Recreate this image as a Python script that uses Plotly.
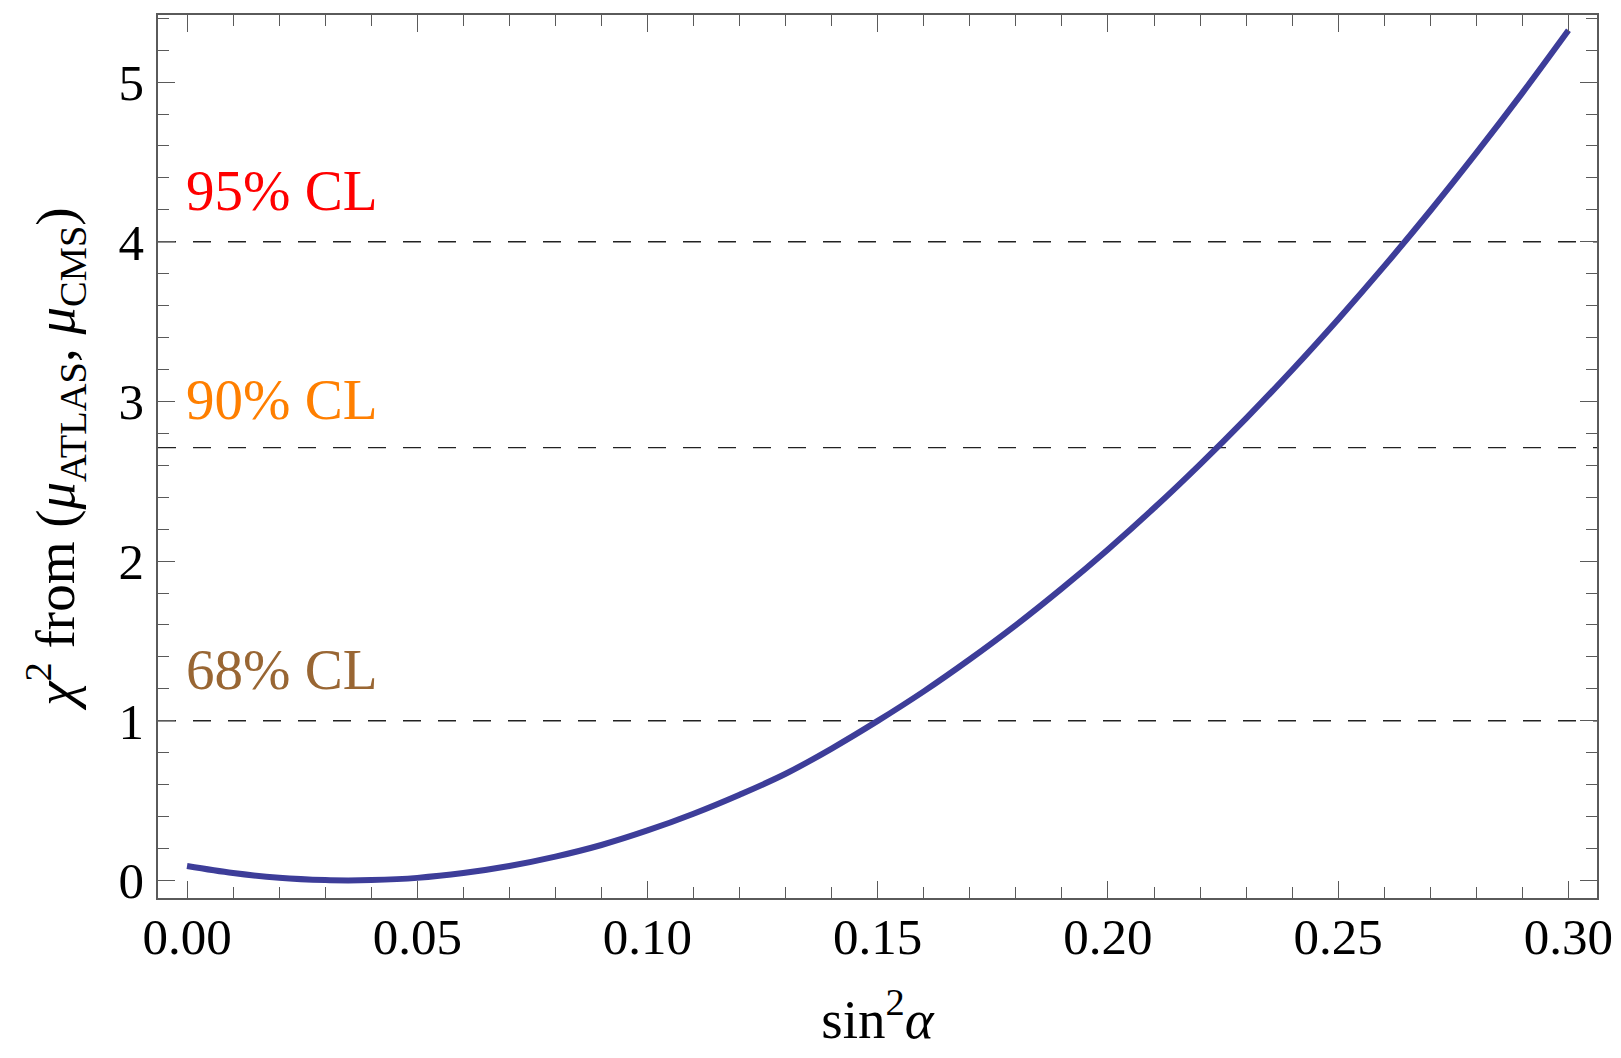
import plotly.graph_objects as go

# sin^2(alpha) values and chi^2 values
sin2a = [0.000, 0.010, 0.020, 0.030, 0.035, 0.040, 0.050, 0.060, 0.070, 0.080,
         0.090, 0.100, 0.110, 0.120, 0.130, 0.140, 0.150, 0.160, 0.170, 0.180,
         0.190, 0.200, 0.210, 0.220, 0.230, 0.240, 0.250, 0.260, 0.270, 0.280,
         0.290, 0.300]
chi2 = [0.090, 0.046, 0.017, 0.002, 0.000, 0.002, 0.016, 0.046, 0.090, 0.149,
        0.222, 0.313, 0.418, 0.537, 0.668, 0.826, 0.999, 1.184, 1.385, 1.599,
        1.829, 2.073, 2.332, 2.606, 2.894, 3.197, 3.515, 3.847, 4.194, 4.556,
        4.932, 5.324]

# confidence-level thresholds
cl_values = [1.0, 2.71, 4.0]
cl_labels = ["68% CL", "90% CL", "95% CL"]
cl_colors = ["#996633", "#ff7f00", "#ff0000"]
cl_label_y = [1.32, 3.01, 4.32]

x_ticks = [0.00, 0.05, 0.10, 0.15, 0.20, 0.25, 0.30]
y_ticks = [0, 1, 2, 3, 4, 5]

FONT = "Liberation Serif"
FRAME = "#5a5a5a"

fig = go.Figure()
fig.add_trace(go.Scatter(
    x=sin2a, y=chi2, mode="lines", line=dict(color="#3d3d99", width=6, shape="spline"),
    showlegend=False, hoverinfo="skip"))

for v in cl_values:
    fig.add_shape(type="line", xref="paper", x0=0, x1=1, yref="y", y0=v, y1=v,
                  line=dict(color="#222222", width=1.3, dash="18px,17px"), layer="below")

for lab, col, yy in zip(cl_labels, cl_colors, cl_label_y):
    fig.add_annotation(x=-0.0007, y=yy, xref="x", yref="y", text=lab, showarrow=False,
                       xanchor="left", yanchor="middle",
                       font=dict(family=FONT, size=57, color=col))

axis_common = dict(
    showline=True, linecolor=FRAME, linewidth=1.5, mirror="allticks",
    ticks="inside", tickcolor=FRAME, tickwidth=1.3, ticklen=17,
    showgrid=False, zeroline=False,
    tickfont=dict(family=FONT, size=51, color="black"),
)

fig.update_xaxes(
    range=[-0.0063, 0.3062], tickvals=x_ticks, ticktext=[f"{t:.2f}" for t in x_ticks],
    minor=dict(ticks="inside", ticklen=11, dtick=0.01, tick0=0, tickcolor=FRAME, tickwidth=1.3),
    ticklabelstandoff=-7,
    title=dict(text="sin<sup>2</sup><i>α</i>", font=dict(family=FONT, size=55, color="black"),
               standoff=42),
    **axis_common)
fig.update_yaxes(
    range=[-0.11, 5.42], tickvals=y_ticks, ticktext=[str(t) for t in y_ticks],
    minor=dict(ticks="inside", ticklen=11, dtick=0.2, tick0=0, tickcolor=FRAME, tickwidth=1.3),
    ticklabelstandoff=2,
    title=dict(text="<i>χ</i><sup>2</sup> from (<i>μ</i><sub>ATLAS</sub>, <i>μ</i><sub>CMS</sub>)",
               font=dict(family=FONT, size=55, color="black"), standoff=26),
    **axis_common)

# page body has a small margin, compensate so the plot frame lands at the reference position
fig.update_layout(
    width=1615, height=1042,
    margin=dict(l=150, r=26, t=5, b=149),
    paper_bgcolor="white", plot_bgcolor="white",
)

fig.write_html("out.html")
